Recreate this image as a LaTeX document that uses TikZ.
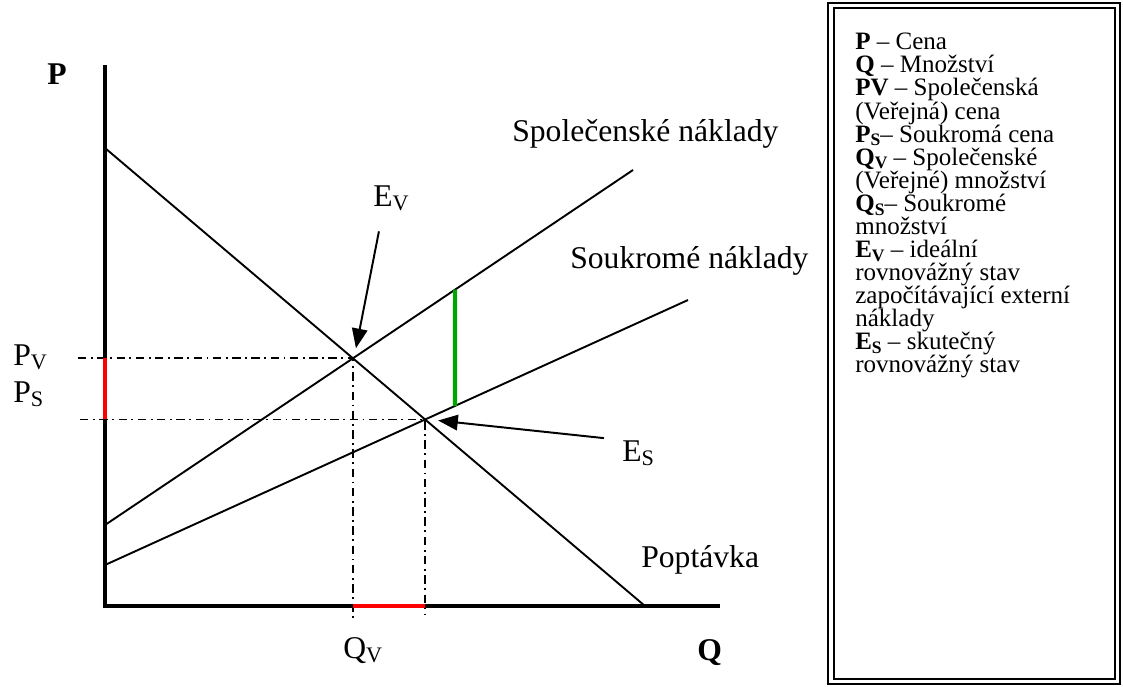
\documentclass[tikz,border=0pt]{standalone}
\usepackage{fontspec}
\setmainfont{Liberation Serif}
\usepackage{graphicx}
\usepackage{tikz}
\usetikzlibrary{arrows.meta, positioning, calc}

\newcommand{\subtx}[1]{\raisebox{-0.15em}{\scalebox{0.7}{#1}}}
\newcommand{\tightlines}{\lineskiplimit=-100pt\relax\lineskip=0pt\relax}

\begin{document}
\begin{tikzpicture}[
        x=0.025cm, y=-0.025cm,
        axis_line/.style={line width=2.9pt, line join=miter},
        curve_line/.style={line width=1.35pt, black},
        guide_line/.style={line width=1.2pt, black, dash pattern=on 6pt off 3.2pt on 1.3pt off 3.2pt},
        gap_red/.style={line width=2.9pt, red},
        gap_green/.style={line width=2.9pt, green!65!black},
        pointer/.style={-{Triangle[length=14pt, width=11pt]}, line width=1.4pt},
        lbl/.style={font=\fontsize{22.5}{27}\selectfont, inner sep=0pt, anchor=base west},
        axis_lbl/.style={lbl, font=\fontsize{22.5}{27}\selectfont\bfseries},
        legend_text/.style={font=\fontsize{17.8}{16.4}\selectfont\tightlines,
                            align=left, inner sep=0pt, anchor=north west}
    ]
    \useasboundingbox (0,0) rectangle (1123,686);

    % axes and curves
    \coordinate (origin) at (105,606);
    \coordinate (ytop)   at (105,65);
    \coordinate (xend)   at (720,606);
    \coordinate (dem_a)  at (105,148);
    \coordinate (dem_b)  at (645,606);
    \coordinate (soc_a)  at (105,525);
    \coordinate (soc_b)  at (633,170);
    \coordinate (priv_a) at (105,565);
    \coordinate (priv_b) at (688,300);
    \coordinate (ev) at (intersection of dem_a--dem_b and soc_a--soc_b);
    \coordinate (es) at (intersection of dem_a--dem_b and priv_a--priv_b);
    \coordinate (gap_top) at (intersection of soc_a--soc_b and 455,0--455,700);
    \coordinate (gap_bot) at (intersection of priv_a--priv_b and 455,0--455,700);

    \draw[guide_line] ($(ev -| origin)+(-27,0)$) -- (ev) -- ($(ev |- origin)+(0,13)$);
    \draw[guide_line] ($(es -| origin)+(-25,0)$) -- (es) -- ($(es |- origin)+(0,9)$);

    \draw[curve_line] (dem_a) -- (dem_b);
    \draw[curve_line] (soc_a) -- (soc_b);
    \draw[curve_line] (priv_a) -- (priv_b);
    \draw[axis_line] (ytop) -- (origin) -- (xend);

    \draw[gap_red] (ev -| origin) -- (es -| origin);
    \draw[gap_red] (ev |- origin) -- (es |- origin);
    \draw[gap_green] (gap_top) -- (gap_bot);

    % labels
    \node[axis_lbl] (p_lbl) at (47,84) {P};
    \node[axis_lbl] (q_lbl) at (697,660) {Q};
    \node[lbl] (pv_lbl) at (13,365) {P\subtx{V}};
    \node[lbl] (ps_lbl) at (13,402) {P\subtx{S}};
    \node[lbl] (qv_lbl) at (343,658) {Q\subtx{V}};
    \node[lbl] (ev_lbl) at (373,206) {E\subtx{V}};
    \node[lbl] (es_lbl) at (622,461) {E\subtx{S}};
    \node[lbl] (soc_lbl) at (512,141) {Společenské náklady};
    \node[lbl] (priv_lbl) at (570,268) {Soukromé náklady};
    \node[lbl] (dem_lbl) at (641,567) {Poptávka};

    \draw[pointer] ($(ev_lbl.south)+(-12,20)$) -- ($(ev)+(3,-10)$);
    \draw[pointer] ($(es_lbl.west)+(-18,-15)$) -- ($(es)+(13,1)$);

    % legend
    \coordinate (box_nw) at (828,3);
    \coordinate (box_se) at (1120,684);
    \draw[line width=1.8pt] (box_nw) rectangle (box_se);
    \draw[line width=0.8pt] ($(box_nw)+(6,5)$) rectangle ($(box_se)+(-5,-5)$);
    \node[legend_text] (legend) at (855,33) {%
        \textbf{P} – Cena\\
        \textbf{Q} – Množství\\
        \textbf{PV} – Společenská\\
        (Veřejná) cena\\
        \textbf{P\subtx{S}}– Soukromá cena\\
        \textbf{Q\subtx{V}} – Společenské\\
        (Veřejné) množství\\
        \textbf{Q\subtx{S}}– Soukromé\\
        množství\\
        \textbf{E\subtx{V}} – ideální\\
        rovnovážný stav\\
        započítávající externí\\
        náklady\\
        \textbf{E\subtx{S}} – skutečný\\
        rovnovážný stav};
\end{tikzpicture}
\end{document}
